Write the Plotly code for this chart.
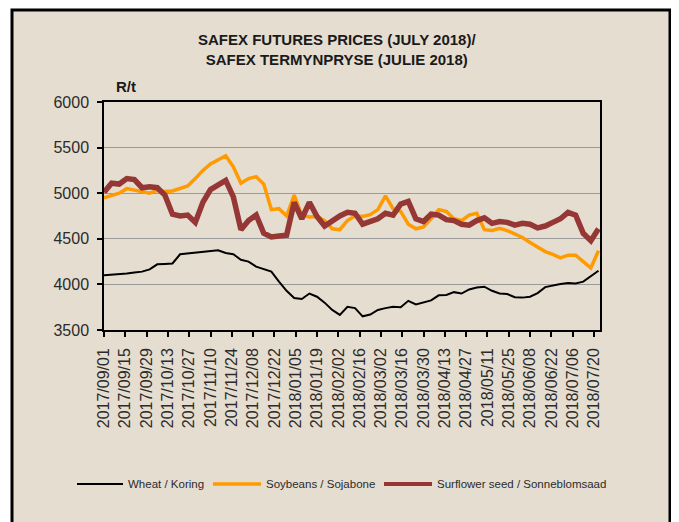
import plotly.graph_objects as go

dates = [
    "2017-09-01", "2017-09-06", "2017-09-11", "2017-09-16", "2017-09-21", "2017-09-26",
    "2017-10-01", "2017-10-06", "2017-10-11", "2017-10-16", "2017-10-21", "2017-10-26", "2017-10-31",
    "2017-11-05", "2017-11-10", "2017-11-15", "2017-11-20", "2017-11-25", "2017-11-30",
    "2017-12-05", "2017-12-10", "2017-12-15", "2017-12-20", "2017-12-25", "2017-12-30",
    "2018-01-04", "2018-01-09", "2018-01-14", "2018-01-19", "2018-01-24", "2018-01-29",
    "2018-02-03", "2018-02-08", "2018-02-13", "2018-02-18", "2018-02-23", "2018-02-28",
    "2018-03-05", "2018-03-10", "2018-03-15", "2018-03-20", "2018-03-25", "2018-03-30",
    "2018-04-04", "2018-04-09", "2018-04-14", "2018-04-19", "2018-04-24", "2018-04-29",
    "2018-05-04", "2018-05-09", "2018-05-14", "2018-05-19", "2018-05-24", "2018-05-29",
    "2018-06-03", "2018-06-08", "2018-06-13", "2018-06-18", "2018-06-23", "2018-06-28",
    "2018-07-03", "2018-07-08", "2018-07-13", "2018-07-18", "2018-07-23",
]

wheat = [
    4100, 4105, 4110, 4120, 4130, 4140,
    4165, 4220, 4225, 4230, 4330, 4340, 4350,
    4355, 4365, 4375, 4345, 4330, 4270,
    4250, 4195, 4170, 4140, 4030, 3930,
    3850, 3840, 3900, 3865, 3800, 3720,
    3665, 3755, 3740, 3650, 3670, 3720,
    3740, 3755, 3750, 3820, 3780, 3805,
    3825, 3880, 3885, 3915, 3900, 3945,
    3965, 3975, 3930, 3900, 3895, 3860,
    3855, 3865, 3905, 3970, 3990, 4005,
    4015, 4010, 4030, 4090, 4150,
]

soybeans = [
    4950, 4975, 5000, 5050, 5035, 5020,
    5000, 5030, 5020, 5025, 5050, 5080, 5160,
    5250, 5320, 5360, 5410, 5290, 5110,
    5160, 5180, 5100, 4820, 4830, 4750,
    4980, 4760, 4740, 4745, 4700, 4610,
    4600, 4700, 4750, 4745, 4765, 4820,
    4970, 4830, 4800, 4660, 4610, 4630,
    4720, 4820, 4800, 4720, 4700, 4760,
    4780, 4600, 4590, 4615, 4590, 4550,
    4515, 4460, 4410, 4360, 4330, 4290,
    4320, 4320, 4250, 4180, 4370,
]

sunflower = [
    5010, 5110, 5100, 5160, 5150, 5060,
    5070, 5060, 4980, 4770, 4750, 4760, 4680,
    4900, 5040, 5090, 5140, 4960, 4600,
    4700, 4760, 4560, 4520, 4530, 4540,
    4900, 4720, 4900, 4745, 4640, 4700,
    4750, 4790, 4780, 4660, 4690, 4720,
    4780, 4760, 4880, 4910, 4720, 4690,
    4770, 4760, 4710, 4700, 4660, 4650,
    4700, 4730, 4670, 4690, 4680, 4650,
    4670, 4660, 4620, 4640, 4680, 4720,
    4790, 4760, 4560, 4480, 4610,
]

names = ["Wheat / Koring", "Soybeans / Sojabone", "Surflower seed / Sonneblomsaad"]
colors = ["#000000", "#FF9A00", "#953735"]
widths = [2, 3.5, 5.5]

title_text = "SAFEX FUTURES PRICES (JULY 2018)/<br>SAFEX TERMYNPRYSE (JULIE 2018)"
unit_text = "R/t"

FONT = "Liberation Sans, Arial, sans-serif"
BG = "#E5DDD0"
TXT = "#2b2b2b"

fig = go.Figure()
for name, ys, c, w in zip(names, [wheat, soybeans, sunflower], colors, widths):
    fig.add_trace(go.Scatter(x=dates, y=ys, mode="lines", name=name,
                             line=dict(color=c, width=w), showlegend=False))

# The page body adds an 8px offset; work in screen coordinates and subtract it.
OFF = 8
W, H = 679, 522
L, R, T, B = 104 - OFF, 600 - OFF, 102 - OFF, 330 - OFF
pw, ph = R - L, B - T
def px(x):
    return (x - OFF - L) / pw
def py(y):
    return (B - (y - OFF)) / ph

# outer frame
fig.add_shape(type="rect", xref="paper", yref="paper",
              x0=px(12), x1=px(670), y0=py(545), y1=py(10),
              fillcolor=BG, line=dict(color="black", width=3), layer="below")
fig.add_shape(type="line", xref="paper", yref="paper",
              x0=px(671), x1=px(671), y0=py(545), y1=py(9),
              line=dict(color="black", width=4), layer="below")

fig.add_annotation(text="<b>" + title_text + "</b>", xref="paper", yref="paper",
                   x=px(337), y=py(49), xanchor="center", yanchor="middle",
                   showarrow=False, font=dict(family=FONT, size=15, color="#1a1a1a"))
fig.add_annotation(text="<b>" + unit_text + "</b>", xref="paper", yref="paper",
                   x=px(114), y=py(86), xanchor="left", yanchor="middle",
                   showarrow=False, font=dict(family=FONT, size=15, color="#1a1a1a"))

# legend drawn by hand (line sample + label)
leg_y = 484
leg_lines = [(77, 123), (213, 261), (384, 432)]
leg_text_x = [126, 264, 435]
for (x0, x1), tx, name, c, w in zip(leg_lines, leg_text_x, names, colors, widths):
    fig.add_shape(type="line", xref="paper", yref="paper",
                  x0=px(x0), x1=px(x1), y0=py(leg_y), y1=py(leg_y),
                  line=dict(color=c, width=min(w, 4)))
    fig.add_annotation(text=name, xref="paper", yref="paper",
                       x=px(tx), y=py(leg_y), xanchor="left", yanchor="middle",
                       showarrow=False, font=dict(family=FONT, size=11.5, color=TXT))

fig.update_layout(
    width=W, height=H,
    margin=dict(l=L, r=W - R, t=T, b=H - B, pad=0),
    paper_bgcolor="white",
    plot_bgcolor="rgba(0,0,0,0)",
    showlegend=False,
    font=dict(family=FONT, color=TXT),
)

fig.update_xaxes(
    type="date", range=["2017-09-01", "2018-07-24"], automargin=False,
    tick0="2017-09-01", dtick=14 * 86400000, tickformat="%Y/%m/%d",
    tickangle=-90, ticks="outside", ticklen=5, tickcolor="black", tickwidth=1.5,
    ticklabelstandoff=5,
    showline=True, linecolor="black", linewidth=1.5, mirror=True,
    showgrid=False, zeroline=False,
    tickfont=dict(family=FONT, size=16, color=TXT),
)
fig.update_yaxes(
    range=[3500, 6000], dtick=500, tick0=3500, automargin=False,
    ticks="outside", ticklen=5, tickcolor="black", tickwidth=1.5,
    ticklabelstandoff=5,
    showline=True, linecolor="black", linewidth=1.5, mirror=True,
    showgrid=True, gridcolor="#9a9a9a", gridwidth=1, zeroline=False,
    tickfont=dict(family=FONT, size=16, color=TXT),
)

fig.write_html("out.html")
